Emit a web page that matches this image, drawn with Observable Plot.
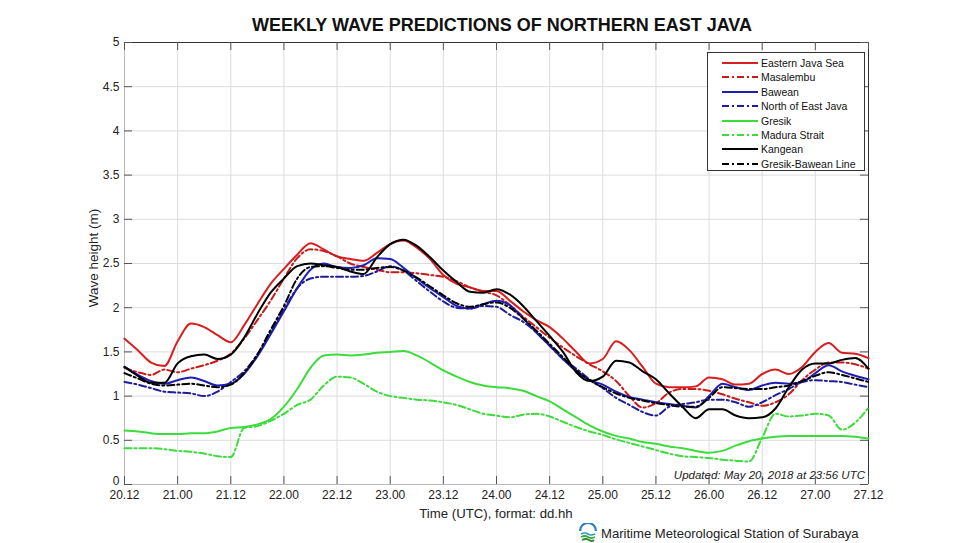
<!DOCTYPE html>
<html>
<head>
<meta charset="utf-8">
<script src="https://cdn.jsdelivr.net/npm/d3@7"></script>
<script src="https://cdn.jsdelivr.net/npm/@observablehq/plot@0.6"></script>
<style>
  html, body { margin: 0; padding: 0; background: #fff; }
  #wrap { position: relative; width: 960px; height: 543px; font-family: "Liberation Sans", Arial, sans-serif; color: #111; }
  #wrap svg.plot { position: absolute; left: 0; top: 0; }
  .ov { position: absolute; white-space: nowrap; }
  #legend { position: absolute; left: 707px; top: 52px; width: 158px; height: 119px; border: 1px solid #333; background: #fff; box-sizing: border-box; }
  .lrow { position: absolute; left: 0; height: 14px; display: flex; align-items: center; font-size: 10.5px; color: #111; }
</style>
</head>
<body>
<div id="wrap"></div>
<script>
// Hours since 20.12 UTC, every 3 hours
const hours = [0,3,6,9,12,15,18,21,24,27,30,33,36,39,42,45,48,51,54,57,60,63,66,69,72,75,78,81,84,87,90,93,96,99,102,105,108,111,114,117,120,123,126,129,132,135,138,141,144,147,150,153,156,159,162,165,168];

// x tick positions (hours) and labels (dd.hh)
const xTickHours = [0,12,24,36,48,60,72,84,96,108,120,132,144,156,168];
const xTickLabels = ["20.12","21.00","21.12","22.00","22.12","23.00","23.12","24.00","24.12","25.00","25.12","26.00","26.12","27.00","27.12"];
const yTicks = [0,0.5,1,1.5,2,2.5,3,3.5,4,4.5,5];

// Series values (wave height, m)
const easternJavaSea = [1.65,1.52,1.38,1.34,1.62,1.82,1.78,1.69,1.61,1.80, 2.04,2.27,2.44,2.60,2.73,2.66,2.58,2.55,2.53,2.62, 2.72,2.76,2.68,2.55,2.37,2.27,2.23,2.19,2.19,2.08, 1.96,1.86,1.78,1.65,1.50,1.37,1.42,1.62,1.52,1.33, 1.14,1.10,1.10,1.11,1.21,1.19,1.13,1.14,1.25,1.30, 1.25,1.33,1.50,1.60,1.49,1.48,1.43];
const masalembu = [1.32,1.27,1.24,1.30,1.27,1.31,1.35,1.40,1.48,1.65, 1.86,2.08,2.33,2.56,2.66,2.64,2.58,2.50,2.46,2.43, 2.40,2.40,2.39,2.37,2.35,2.30,2.23,2.18,2.14,2.03, 1.90,1.78,1.66,1.55,1.45,1.36,1.28,1.17,1.00,0.87, 0.92,1.04,1.08,1.08,1.06,1.02,0.97,0.93,0.89,0.93, 1.02,1.18,1.30,1.38,1.38,1.36,1.31];
const bawean = [1.33,1.24,1.17,1.14,1.18,1.21,1.17,1.12,1.14,1.25, 1.45,1.70,1.96,2.22,2.43,2.50,2.46,2.45,2.48,2.56, 2.55,2.45,2.33,2.22,2.12,2.02,1.99,2.04,2.08,2.03, 1.88,1.72,1.57,1.42,1.28,1.18,1.13,1.05,0.99,0.96, 0.93,0.91,0.89,0.87,1.00,1.14,1.10,1.07,1.12,1.15, 1.14,1.16,1.26,1.35,1.28,1.23,1.19];
const northOfEastJava = [1.16,1.13,1.09,1.05,1.04,1.03,1.00,1.05,1.16,1.28, 1.47,1.72,1.98,2.22,2.33,2.35,2.35,2.35,2.36,2.41, 2.47,2.42,2.30,2.18,2.07,2.00,1.99,2.02,2.01,1.92, 1.84,1.72,1.57,1.42,1.31,1.19,1.09,0.98,0.90,0.82, 0.78,0.88,0.91,0.93,0.96,0.96,0.93,0.88,0.93,1.01, 1.08,1.16,1.18,1.17,1.16,1.13,1.10];
const gresik = [0.61,0.60,0.58,0.57,0.57,0.58,0.58,0.60,0.64,0.65, 0.68,0.74,0.88,1.08,1.32,1.46,1.47,1.46,1.47,1.49, 1.50,1.51,1.46,1.38,1.29,1.22,1.16,1.12,1.10,1.09, 1.06,1.00,0.94,0.85,0.76,0.67,0.60,0.55,0.52,0.48, 0.46,0.43,0.41,0.38,0.36,0.38,0.44,0.49,0.52,0.54, 0.55,0.55,0.55,0.55,0.55,0.54,0.52];
const maduraStrait = [0.41,0.41,0.41,0.40,0.38,0.37,0.35,0.32,0.31,0.64, 0.66,0.72,0.80,0.90,0.96,1.12,1.22,1.21,1.14,1.05, 1.00,0.98,0.96,0.95,0.93,0.90,0.85,0.80,0.78,0.76, 0.79,0.80,0.77,0.71,0.65,0.60,0.56,0.51,0.47,0.43, 0.39,0.35,0.32,0.31,0.30,0.28,0.27,0.26,0.53,0.80, 0.77,0.78,0.80,0.78,0.62,0.70,0.87];
const kangean = [1.33,1.23,1.15,1.15,1.37,1.45,1.47,1.42,1.47,1.66, 1.93,2.17,2.33,2.47,2.50,2.48,2.46,2.41,2.38,2.57, 2.72,2.77,2.70,2.57,2.42,2.29,2.18,2.17,2.21,2.15, 2.02,1.85,1.68,1.50,1.27,1.17,1.22,1.40,1.38,1.28, 1.19,1.03,0.88,0.75,0.85,0.85,0.78,0.75,0.76,0.86, 1.10,1.30,1.37,1.37,1.41,1.43,1.31];
const gresikBaweanLine = [1.26,1.20,1.14,1.12,1.13,1.14,1.12,1.10,1.13,1.26, 1.47,1.75,2.02,2.33,2.46,2.47,2.45,2.43,2.43,2.45, 2.46,2.42,2.34,2.24,2.14,2.05,2.01,2.04,2.06,2.00, 1.88,1.74,1.59,1.44,1.29,1.18,1.10,1.03,0.98,0.95, 0.92,0.90,0.88,0.88,0.98,1.10,1.09,1.08,1.08,1.10, 1.12,1.17,1.23,1.27,1.24,1.20,1.16];

const seriesNames = ["Eastern Java Sea","Masalembu","Bawean","North of East Java","Gresik","Madura Strait","Kangean","Gresik-Bawean Line"];
const seriesValues = [easternJavaSea, masalembu, bawean, northOfEastJava, gresik, maduraStrait, kangean, gresikBaweanLine];
const seriesColors = ["#d81e1e","#c81c1c","#1f1fb4","#1c1c9c","#3cdc3c","#3cdc3c","#000000","#000000"];
const seriesDashed = [false,true,false,true,false,true,false,true];
const DASH = "7,3,2,3";

const W = 960, H = 543, ML = 124, MR = 92, MT = 42, MB = 59;
const PW = W - ML - MR, PH = H - MT - MB;

const lineMarks = seriesNames.map((name, k) =>
  Plot.line(hours.map((h, i) => ({h, v: seriesValues[k][i]})), {
    x: "h", y: "v", stroke: seriesColors[k], strokeWidth: 2,
    strokeDasharray: seriesDashed[k] ? DASH : null,
    curve: "monotone-x"
  })
);

const chart = Plot.plot({
  width: W, height: H,
  marginLeft: ML, marginRight: MR, marginTop: MT, marginBottom: MB,
  style: {fontFamily: "'Liberation Sans', Arial, sans-serif", fontSize: "12px", color: "#222", background: "transparent"},
  x: {domain: [0, 168]},
  y: {domain: [0, 5]},
  marks: [
    Plot.gridX(xTickHours, {stroke: "#dcdcdc", strokeOpacity: 1}),
    Plot.gridY(yTicks, {stroke: "#dcdcdc", strokeOpacity: 1}),
    Plot.ruleX([0], {stroke: "#bbbbbb"}),
    Plot.ruleY([0], {stroke: "#bbbbbb"}),
    Plot.ruleX([168], {stroke: "#333"}),
    Plot.ruleY([5], {stroke: "#333"}),
    // inward tick marks (MATLAB style)
    Plot.tickY(yTicks, {y: d => d, insetRight: PW - 8, stroke: "#555"}),
    Plot.tickY(yTicks, {y: d => d, insetLeft: PW - 8, stroke: "#555"}),
    Plot.tickX(xTickHours, {x: d => d, insetTop: PH - 8, stroke: "#555"}),
    Plot.tickX(xTickHours, {x: d => d, insetBottom: PH - 8, stroke: "#555"}),
    ...lineMarks,
    Plot.axisY(yTicks.filter(d => d > 0), {tickSize: 0, tickPadding: 5, tickFormat: d => String(d), label: null, fill: "#222"}),
    Plot.axisY([0], {tickSize: 0, tickPadding: 5, tickFormat: d => String(d), label: null, fill: "#222", dy: -3}),
    Plot.axisX(xTickHours, {tickSize: 0, tickPadding: 6, tickFormat: (d, i) => xTickLabels[i], label: null, fill: "#222"})
  ]
});
chart.classList.add("plot");

const wrap = document.getElementById("wrap");
wrap.appendChild(chart);

function ov(text, css) {
  const d = document.createElement("div");
  d.className = "ov";
  d.textContent = text;
  Object.assign(d.style, css);
  wrap.appendChild(d);
  return d;
}

ov("WEEKLY WAVE PREDICTIONS OF NORTHERN EAST JAVA", {left: "502px", top: "25px", transform: "translate(-50%,-50%)", fontWeight: "bold", fontSize: "18px", color: "#111"});
ov("Wave height (m)", {left: "93px", top: "258px", transform: "translate(-50%,-50%) rotate(-90deg)", fontSize: "13.5px", color: "#222"});
ov("Time (UTC), format: dd.hh", {left: "496px", top: "513px", transform: "translate(-50%,-50%)", fontSize: "13.2px", color: "#222"});
ov("Updated: May 20, 2018 at 23:56 UTC", {right: (W - 865) + "px", top: "475px", transform: "translateY(-50%)", fontStyle: "italic", fontSize: "11.5px", color: "#222"});
ov("Maritime Meteorological Station of Surabaya", {left: "601px", top: "533px", transform: "translateY(-50%)", fontSize: "13.1px", color: "#222"});

// logo
const logo = document.createElement("div");
logo.className = "ov";
Object.assign(logo.style, {left: "578px", top: "523px"});
logo.innerHTML = '<svg width="20" height="20" viewBox="0 0 20 20">' +
  '<path d="M2,8 A8,8 0 0 1 18,8" fill="none" stroke="#2a7fc0" stroke-width="2.2"/>' +
  '<path d="M3,11 Q7,9 10,11 T17,11" fill="none" stroke="#2a9ad0" stroke-width="1.6"/>' +
  '<path d="M3,14 Q7,12 10,14 T17,14" fill="none" stroke="#3aa83a" stroke-width="1.8"/>' +
  '<path d="M4,17 Q8,15 11,17 T16,17" fill="none" stroke="#2e8b2e" stroke-width="1.8"/>' +
  '</svg>';
wrap.appendChild(logo);

// legend
const legend = document.createElement("div");
legend.id = "legend";
seriesNames.forEach((name, k) => {
  const row = document.createElement("div");
  row.className = "lrow";
  row.style.top = (3 + k * 14.4) + "px";
  row.innerHTML = '<svg width="52" height="14" style="flex:none"><line x1="14" x2="50" y1="7" y2="7" stroke="' + seriesColors[k] + '" stroke-width="2"' + (seriesDashed[k] ? ' stroke-dasharray="' + DASH + '"' : '') + '/></svg>';
  const t = document.createElement("span");
  t.textContent = name;
  t.style.marginLeft = "1px";
  row.appendChild(t);
  legend.appendChild(row);
});
wrap.appendChild(legend);
</script>
</body>
</html>
